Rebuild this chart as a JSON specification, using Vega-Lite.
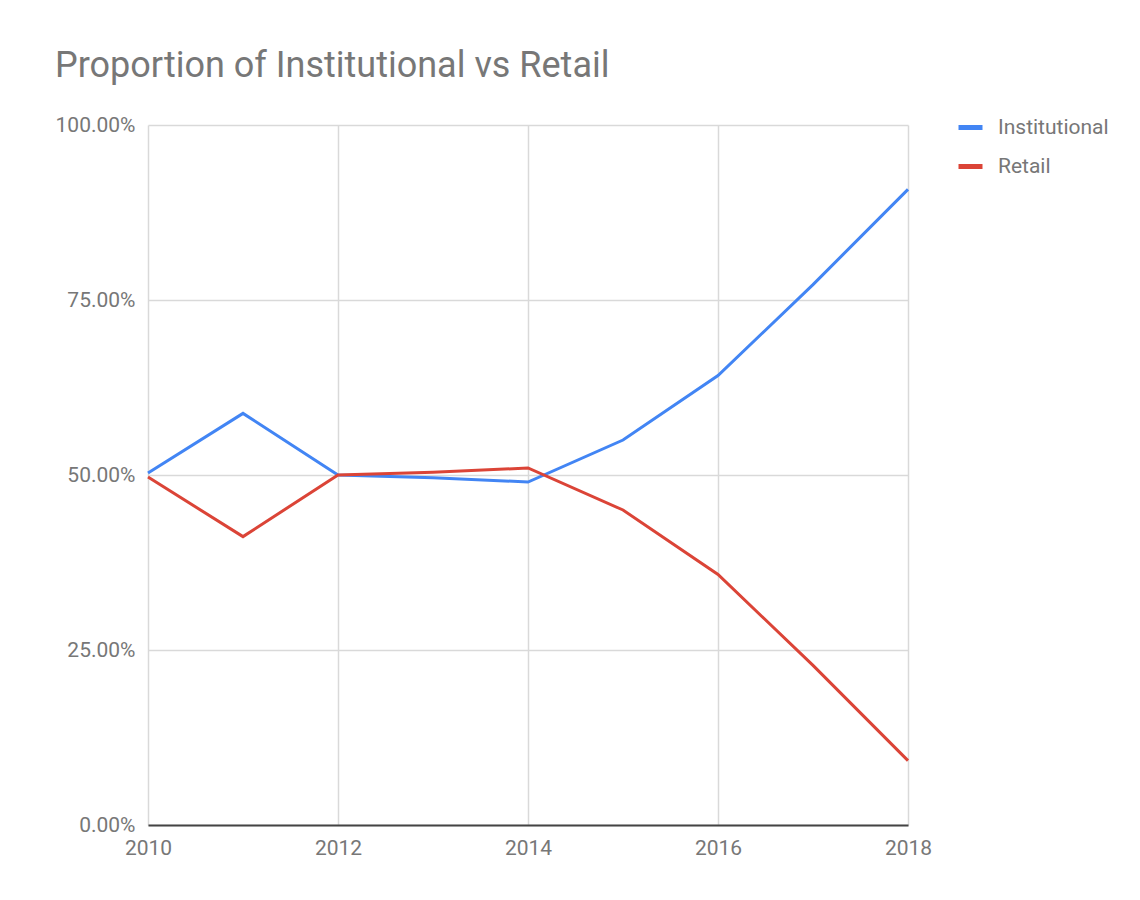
{
  "$schema": "https://vega.github.io/schema/vega-lite/v6.json",
  "width": 760,
  "height": 700,
  "autosize": {"type": "none"},
  "padding": {"left": 148, "top": 125, "right": 232, "bottom": 75},
  "background": "white",
  "title": {
    "text": "Proportion of Institutional vs Retail",
    "anchor": "start",
    "frame": "group",
    "dx": -93,
    "dy": 45,
    "offset": 45,
    "baseline": "alphabetic",
    "font": "Roboto",
    "fontSize": 36,
    "fontWeight": "normal",
    "color": "#777777"
  },
  "data": {
    "values": [
      {"year": 2010, "series": "Institutional", "value": 0.503},
      {"year": 2011, "series": "Institutional", "value": 0.588},
      {"year": 2012, "series": "Institutional", "value": 0.500},
      {"year": 2013, "series": "Institutional", "value": 0.496},
      {"year": 2014, "series": "Institutional", "value": 0.490},
      {"year": 2015, "series": "Institutional", "value": 0.550},
      {"year": 2016, "series": "Institutional", "value": 0.642},
      {"year": 2017, "series": "Institutional", "value": 0.772},
      {"year": 2018, "series": "Institutional", "value": 0.908},
      {"year": 2010, "series": "Retail", "value": 0.497},
      {"year": 2011, "series": "Retail", "value": 0.412},
      {"year": 2012, "series": "Retail", "value": 0.500},
      {"year": 2013, "series": "Retail", "value": 0.504},
      {"year": 2014, "series": "Retail", "value": 0.510},
      {"year": 2015, "series": "Retail", "value": 0.450},
      {"year": 2016, "series": "Retail", "value": 0.358},
      {"year": 2017, "series": "Retail", "value": 0.228},
      {"year": 2018, "series": "Retail", "value": 0.092}
    ]
  },
  "mark": {"type": "line", "strokeWidth": 3},
  "encoding": {
    "x": {
      "field": "year",
      "type": "quantitative",
      "scale": {"domain": [2010, 2018], "nice": false, "zero": false},
      "axis": {
        "title": null,
        "values": [2010, 2012, 2014, 2016, 2018],
        "format": "d",
        "labelFont": "Roboto",
        "labelFontSize": 21,
        "labelColor": "#777777",
        "labelPadding": 12,
        "labelFlush": false,
        "ticks": false,
        "domain": true,
        "domainColor": "#444444",
        "domainWidth": 2,
        "grid": true,
        "gridColor": "#d9d9d9",
        "gridWidth": 1.5
      }
    },
    "y": {
      "field": "value",
      "type": "quantitative",
      "scale": {"domain": [0, 1], "nice": false},
      "axis": {
        "title": null,
        "values": [0, 0.25, 0.5, 0.75, 1],
        "format": ".2%",
        "labelFont": "Roboto",
        "labelFontSize": 21,
        "labelColor": "#777777",
        "labelPadding": 13,
        "labelFlush": false,
        "ticks": false,
        "domain": false,
        "grid": true,
        "gridColor": "#d9d9d9",
        "gridWidth": 1.5
      }
    },
    "color": {
      "field": "series",
      "type": "nominal",
      "scale": {"domain": ["Institutional", "Retail"], "range": ["#4285F4", "#DB4437"]},
      "legend": {
        "title": null,
        "orient": "none",
        "legendX": 808,
        "legendY": -12,
        "symbolType": "stroke",
        "symbolSize": 576,
        "symbolStrokeWidth": 5,
        "labelFont": "Roboto",
        "labelFontSize": 21,
        "labelColor": "#777777",
        "labelOffset": 13,
        "rowPadding": 14
      }
    }
  },
  "config": {"view": {"stroke": null}}
}
